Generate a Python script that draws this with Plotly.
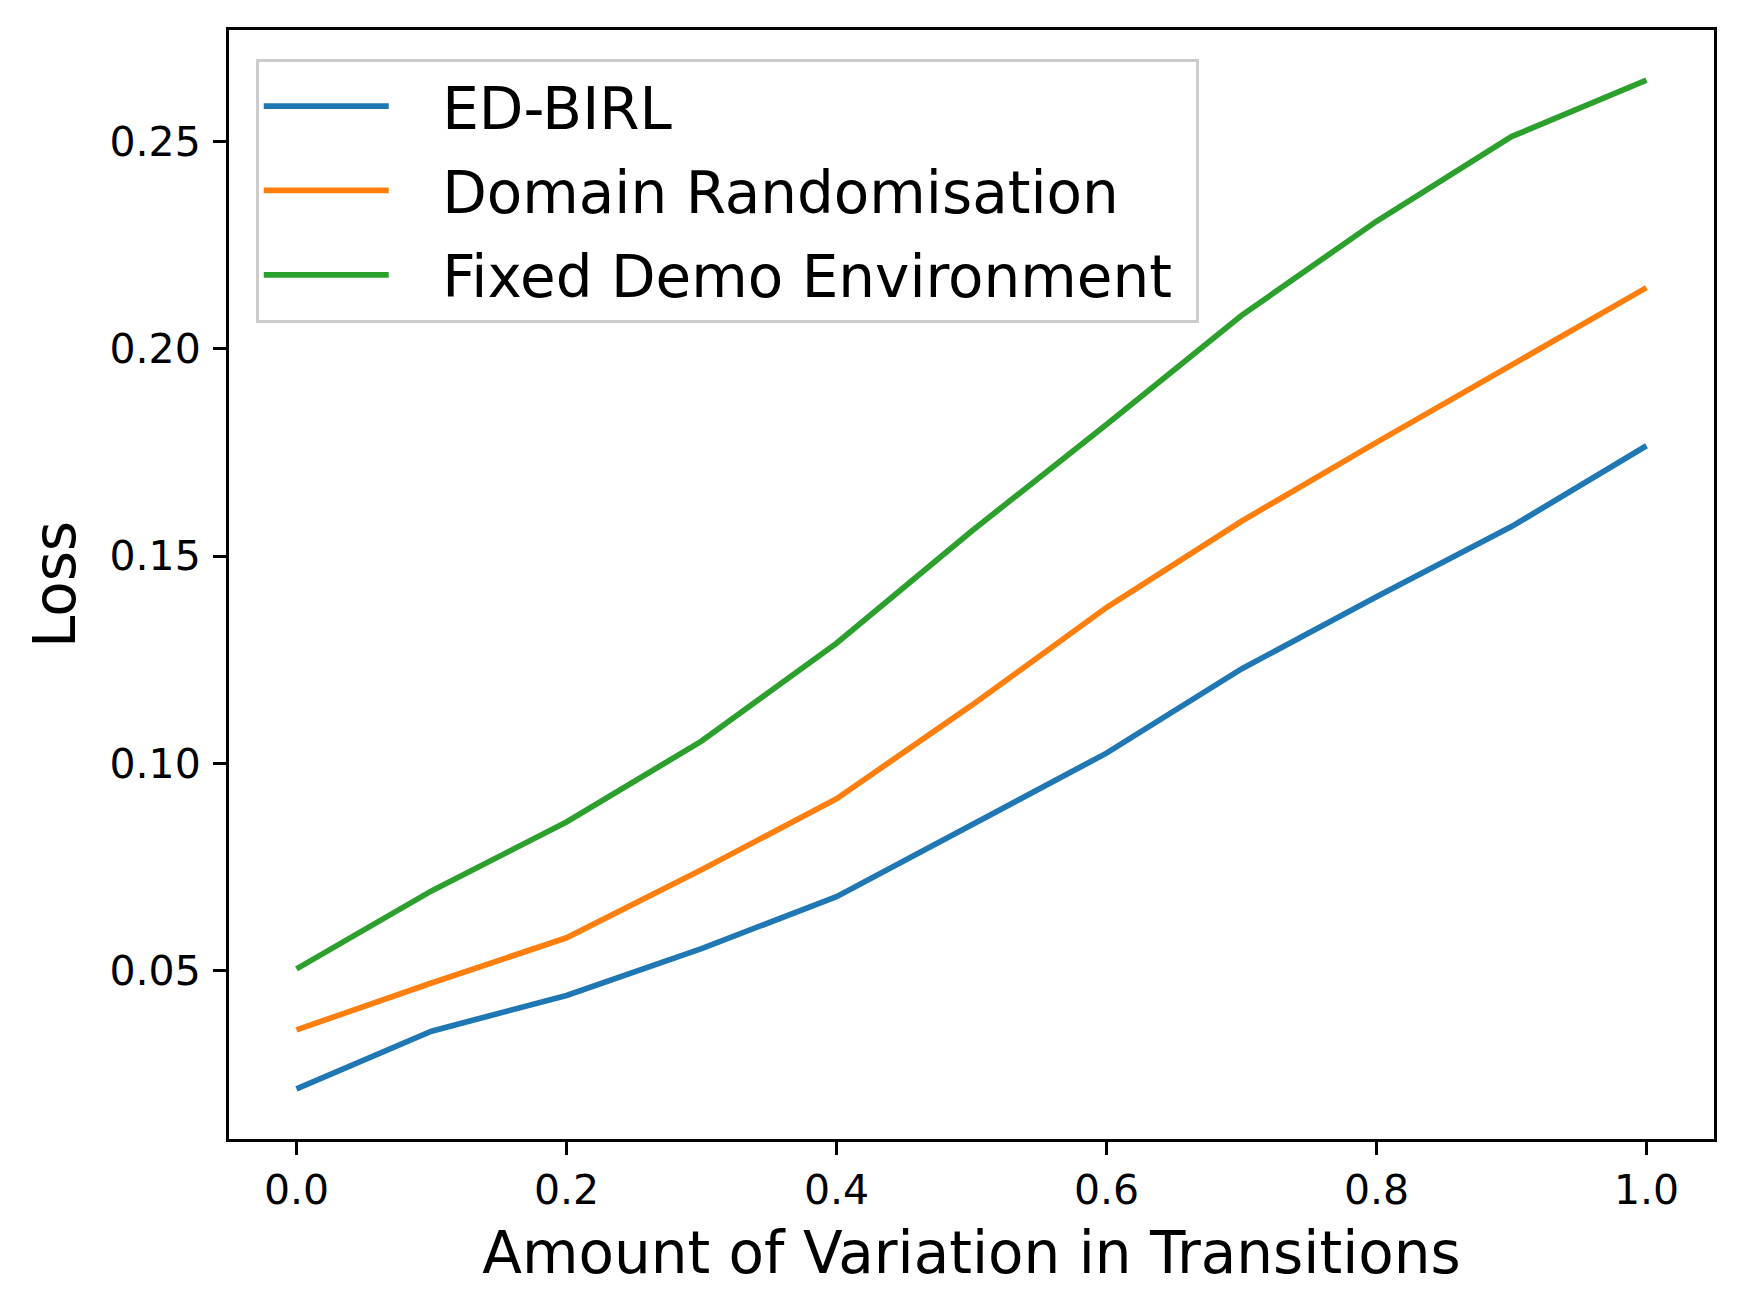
import plotly.graph_objects as go

# values
variation = [0.0, 0.1, 0.2, 0.3, 0.4, 0.5, 0.6, 0.7, 0.8, 0.9, 1.0]
ed_birl = [0.0216, 0.0355, 0.0441, 0.0554, 0.0679, 0.0851, 0.1025, 0.1228, 0.1402, 0.1571, 0.1766]
domain_rand = [0.0358, 0.0471, 0.0580, 0.0744, 0.0915, 0.1140, 0.1376, 0.1584, 0.1774, 0.1962, 0.2147]
fixed_demo = [0.0505, 0.0693, 0.0859, 0.1054, 0.1290, 0.1560, 0.1817, 0.2080, 0.2307, 0.2511, 0.2647]

series = [
    ("ED-BIRL", ed_birl, "#1f77b4"),
    ("Domain Randomisation", domain_rand, "#ff7f0e"),
    ("Fixed Demo Environment", fixed_demo, "#2ca02c"),
]

# padding so the legend text sits further from the line sample, like matplotlib
pad = "\u00a0\u00a0\u2009"

fig = go.Figure()
for name, vals, col in series:
    fig.add_trace(go.Scatter(x=variation, y=vals, mode="lines", name=pad + name + "\u00a0",
                             legendgroup=name, line=dict(color=col, width=5.7)))

axis_style = dict(showline=True, linecolor="black", linewidth=3, mirror=True,
                  ticks="outside", ticklen=13, tickwidth=3, tickcolor="black",
                  showgrid=False, zeroline=False,
                  tickfont=dict(size=41, color="black"))

fig.update_xaxes(range=[-0.05, 1.05], tickvals=[0, 0.2, 0.4, 0.6, 0.8, 1.0],
                 ticktext=["0.0", "0.2", "0.4", "0.6", "0.8", "1.0"], ticklabelstandoff=0,
                 title=dict(text="Amount of Variation in Transitions", font=dict(size=58, color="black"), standoff=20),
                 **axis_style)
fig.update_yaxes(range=[0.0095, 0.2768], tickvals=[0.05, 0.10, 0.15, 0.20, 0.25],
                 ticktext=["0.05", "0.10", "0.15", "0.20", "0.25"], ticklabelstandoff=4,
                 title=dict(text="Loss", font=dict(size=58, color="black"), standoff=16),
                 **axis_style)

fig.update_layout(
    width=1743, height=1313,
    margin=dict(l=221, r=37, t=22, b=182),
    plot_bgcolor="white", paper_bgcolor="white",
    font=dict(family="DejaVu Sans", color="black"),
    legend=dict(x=0.018, y=0.974, xanchor="left", yanchor="top",
                bgcolor="rgba(255,255,255,0.8)", bordercolor="#cccccc", borderwidth=3,
                font=dict(size=58, color="black"), itemwidth=125, tracegroupgap=6),
)

fig.write_html("out.html")
